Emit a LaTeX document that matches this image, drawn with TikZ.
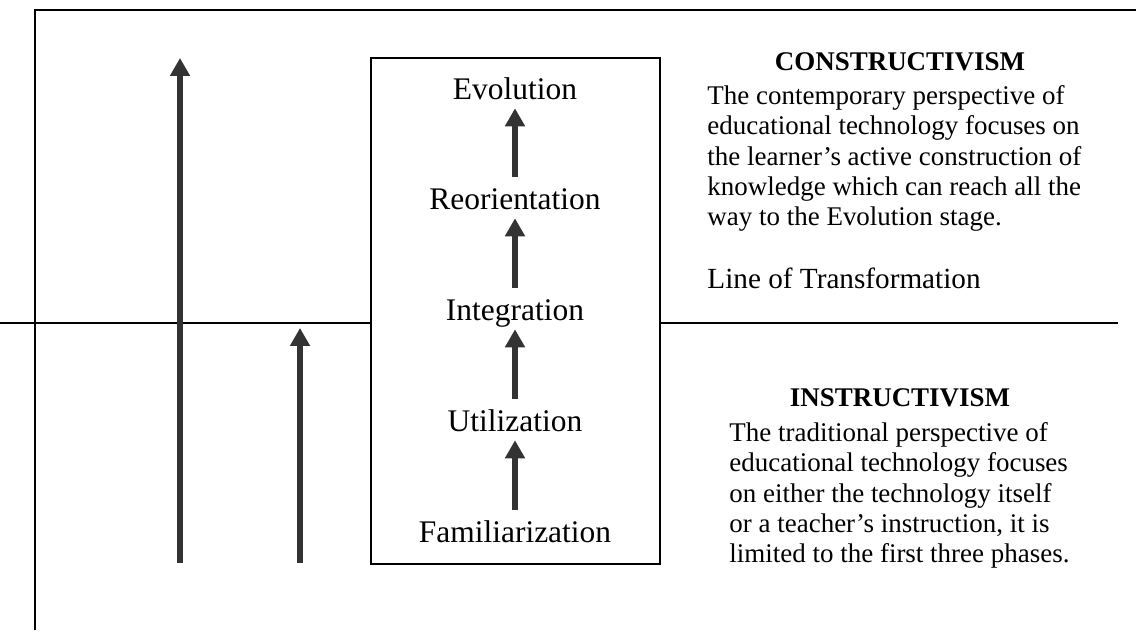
\documentclass[tikz,border=0pt]{standalone}
\usepackage{fontspec}
\setmainfont{Liberation Serif}
\usetikzlibrary{arrows.meta}
\begin{document}
\begin{tikzpicture}[x=0.445pt,y=-0.445pt,
  phase/.style={font=\fontsize{14}{16}\selectfont, inner sep=0pt, text height=10pt, text depth=0pt},
  rise/.style={draw=black!80, line width=3pt, -{Triangle[width=8.5pt,length=8pt]}},
  frameline/.style={line width=0.9pt},
  heading/.style={font=\fontsize{12}{13.5}\selectfont\bfseries, inner sep=0pt, anchor=base},
  para/.style={font=\fontsize{12}{13.5}\selectfont, inner sep=0pt, align=left, anchor=north west}]
\useasboundingbox (0,0) rectangle (1136,632);
\coordinate (topR) at (1136,10);
\coordinate (topL) at (35,10);
\coordinate (botL) at (35,630);
\draw [frameline] (topR) -- (topL) -- (botL);
\node (box) [draw, frameline, minimum width=128.6pt, minimum height=225.2pt, inner sep=0pt] at (515.5,311) {};
\coordinate (lineL) at (0,323);
\coordinate (lineR) at (1118,323);
\draw [frameline] (lineL) -- (lineL -| box.west);
\draw [frameline] (lineR -| box.east) -- (lineR);
\node (evo) [phase, anchor=base] at (515,100) {Evolution};
\node (reo) [phase, anchor=base] at (515,210) {Reorientation};
\node (integ) [phase, anchor=base] at (515,321) {Integration};
\node (util) [phase, anchor=base] at (515,432) {Utilization};
\node (fam) [phase, anchor=base] at (515,543) {Familiarization};
\draw [rise, shorten <=4.5pt, shorten >=3.5pt] (reo) -- (evo);
\draw [rise, shorten <=4.5pt, shorten >=3.5pt] (integ) -- (reo);
\draw [rise, shorten <=4.5pt, shorten >=3.5pt] (util) -- (integ);
\draw [rise, shorten <=4.5pt, shorten >=3.5pt] (fam) -- (util);
\coordinate (longS) at (180,563);
\coordinate (longE) at (180,58);
\coordinate (shortS) at (300,563);
\coordinate (shortE) at (300,328);
\draw [rise] (longS) -- (longE);
\draw [rise] (shortS) -- (shortE);
\node (con) [heading] at (900,71) {CONSTRUCTIVISM};
\node (conpar) [para] at (707,85) {The contemporary perspective of\\
educational technology focuses on\\
the learner’s active construction of\\
knowledge which can reach all the\\
way to the Evolution stage.};
\node (lot) [font=\fontsize{13}{15}\selectfont, inner sep=0pt, anchor=base west] at (707,289) {Line of Transformation};
\node (ins) [heading] at (900,407) {INSTRUCTIVISM};
\node (inspar) [para] at (729,422) {The traditional perspective of\\
educational technology focuses\\
on either the technology itself\\
or a teacher’s instruction, it is\\
limited to the first three phases.};
\end{tikzpicture}
\end{document}
